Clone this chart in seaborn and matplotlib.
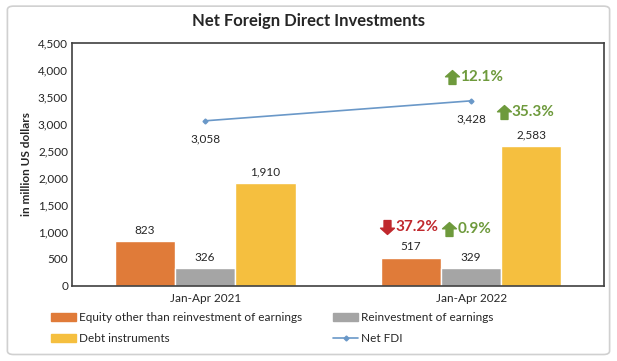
import matplotlib
matplotlib.use("Agg")
import matplotlib.pyplot as plt
import matplotlib.transforms as mtransforms
from matplotlib.path import Path
import seaborn as sns
import pandas as pd
from matplotlib.patches import FancyBboxPatch
from matplotlib.lines import Line2D
from matplotlib.ticker import FuncFormatter

periods = ["Jan-Apr 2021", "Jan-Apr 2022"]
series_names = ["Equity other than reinvestment of earnings", "Reinvestment of earnings", "Debt instruments"]
equity = [823, 517]
reinvest = [326, 329]
debt = [1910, 2583]
net_fdi = [3058, 3428]
changes = {"equity": "37.2%", "reinvest": "0.9%", "debt": "35.3%", "net": "12.1%"}
change_up = {"equity": False, "reinvest": True, "debt": True, "net": True}

colors = ["#E07B39", "#A5A5A5", "#F5BF3F"]
line_color = "#6A98C8"
green = "#6E9A3C"
red = "#C0282D"

sns.set_style("white")
plt.rcParams["font.family"] = ["Lato", "DejaVu Sans"]

df = pd.DataFrame({
    "period": periods * 3,
    "series": [series_names[0]] * 2 + [series_names[1]] * 2 + [series_names[2]] * 2,
    "value": equity + reinvest + debt,
})

fig = plt.figure(figsize=(6.17, 3.61), dpi=100)
fig.patches.append(FancyBboxPatch((0.012, 0.018), 0.976, 0.965, boxstyle="round,pad=0,rounding_size=0.01",
                                  transform=fig.transFigure, facecolor="white", edgecolor="#D0D0D0", lw=1.2, zorder=-1))
ax = fig.add_axes([0.117, 0.208, 0.862, 0.673])
sns.barplot(data=df, x="period", y="value", hue="series", hue_order=series_names, order=periods,
            palette=colors, width=0.68, ax=ax, legend=False, saturation=1)
ax.plot(range(len(periods)), net_fdi, color=line_color, lw=1.2, marker="D", markersize=2.5)

ax.set_xlim(-0.5, 1.5)
ax.set_ylim(0, 4500)
ax.set_yticks(range(0, 4501, 500))
ax.yaxis.set_major_formatter(FuncFormatter(lambda v, p: f"{int(v):,}"))
ax.tick_params(axis="y", labelsize=8.5, length=0, pad=3)
ax.tick_params(axis="x", labelsize=8.5, length=0, pad=5)
ax.set_xlabel("")
ax.set_ylabel("in million US dollars", fontsize=8.5, fontweight="bold", labelpad=4)
for s in ax.spines.values():
    s.set_color("#404040")
    s.set_linewidth(1.2)
fig.suptitle("Net Foreign Direct Investments", x=0.5, y=0.965, fontsize=12, fontweight="bold")

for cont in ax.containers:
    ax.bar_label(cont, labels=[f"{int(v):,}" for v in cont.datavalues], padding=4, fontsize=8.5)
for i, v in enumerate(net_fdi):
    ax.annotate(f"{v:,}", (i, v), xytext=(0, -9), textcoords="offset points", ha="center", va="top", fontsize=8.5)

# block arrow marker
up_verts = [(-0.25, -0.5), (0.25, -0.5), (0.25, 0.05), (0.5, 0.05), (0.0, 0.5), (-0.5, 0.05), (-0.25, 0.05), (-0.25, -0.5)]
up_path = Path(up_verts, closed=True)
down_path = Path([(x, -y) for x, y in up_verts], closed=True)

bar_w = 0.68 / 3
def arrow_text(x, y, key, dx=0, dy=14):
    up = change_up[key]
    col = green if up else red
    tr = mtransforms.offset_copy(ax.transData, fig=fig, x=dx, y=dy, units="points")
    ax.plot([x], [y], marker=up_path if up else down_path, markersize=10, color=col, transform=tr, clip_on=False)
    tr2 = mtransforms.offset_copy(ax.transData, fig=fig, x=dx + 6, y=dy, units="points")
    ax.text(x, y, changes[key], transform=tr2, ha="left", va="center", fontsize=11, fontweight="bold", color=col)

arrow_text(1 - bar_w, equity[1], "equity", dx=-17, dy=22)
arrow_text(1, reinvest[1], "reinvest", dx=-16, dy=28)
arrow_text(1 + bar_w, debt[1], "debt", dx=-20, dy=25)
arrow_text(1, net_fdi[1], "net", dx=-14, dy=17)

handles = [plt.Rectangle((0, 0), 1, 1, color=colors[0]),
           plt.Rectangle((0, 0), 1, 1, color=colors[2]),
           plt.Rectangle((0, 0), 1, 1, color=colors[1]),
           Line2D([], [], color=line_color, marker="D", markersize=2.5, lw=1.2)]
labels = [series_names[0], series_names[2], series_names[1], "Net FDI"]
fig.legend(handles, labels, loc="upper left", bbox_to_anchor=(0.075, 0.148), ncol=2, frameon=False,
           fontsize=8.5, handlelength=2.1, handleheight=0.6, handletextpad=0.3, columnspacing=2.6,
           labelspacing=0.85, borderaxespad=0)

fig.savefig("out.png", dpi=100)
